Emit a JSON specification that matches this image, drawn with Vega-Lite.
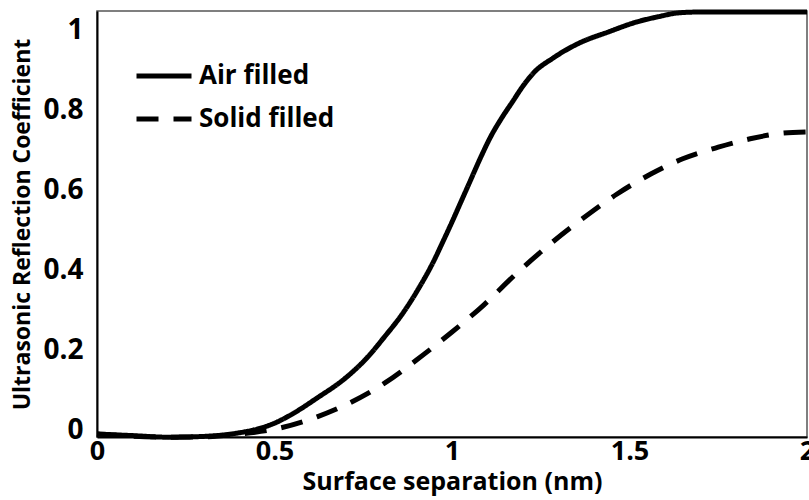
{
  "$schema": "https://vega.github.io/schema/vega-lite/v6.json",
  "width": 710,
  "height": 426,
  "autosize": {"type": "none"},
  "padding": {"left": 97, "top": 11, "right": 2, "bottom": 63},
  "background": "white",
  "config": {
    "view": {"stroke": "#555555", "strokeWidth": 1.5},
    "font": "Open Sans",
    "axis": {
      "grid": false,
      "ticks": false,
      "domainColor": "black",
      "domainWidth": 2,
      "labelColor": "black",
      "labelFont": "Open Sans",
      "labelFontWeight": "bold",
      "titleColor": "black",
      "titleFont": "Open Sans",
      "titleFontWeight": "bold"
    }
  },
  "data": {
    "values": [
      {"x": 0.0, "y": -0.01, "series": "Air filled"},
      {"x": 0.1, "y": -0.014, "series": "Air filled"},
      {"x": 0.2, "y": -0.018, "series": "Air filled"},
      {"x": 0.3, "y": -0.016, "series": "Air filled"},
      {"x": 0.4, "y": -0.007, "series": "Air filled"},
      {"x": 0.45, "y": 0.002, "series": "Air filled"},
      {"x": 0.5, "y": 0.017, "series": "Air filled"},
      {"x": 0.55, "y": 0.04, "series": "Air filled"},
      {"x": 0.62, "y": 0.08, "series": "Air filled"},
      {"x": 0.7, "y": 0.13, "series": "Air filled"},
      {"x": 0.76, "y": 0.18, "series": "Air filled"},
      {"x": 0.81, "y": 0.233, "series": "Air filled"},
      {"x": 0.86, "y": 0.29, "series": "Air filled"},
      {"x": 0.9, "y": 0.345, "series": "Air filled"},
      {"x": 0.95, "y": 0.425, "series": "Air filled"},
      {"x": 0.975, "y": 0.472, "series": "Air filled"},
      {"x": 1.0, "y": 0.52, "series": "Air filled"},
      {"x": 1.025, "y": 0.57, "series": "Air filled"},
      {"x": 1.05, "y": 0.62, "series": "Air filled"},
      {"x": 1.08, "y": 0.68, "series": "Air filled"},
      {"x": 1.11, "y": 0.735, "series": "Air filled"},
      {"x": 1.14, "y": 0.78, "series": "Air filled"},
      {"x": 1.17, "y": 0.82, "series": "Air filled"},
      {"x": 1.2, "y": 0.86, "series": "Air filled"},
      {"x": 1.23, "y": 0.893, "series": "Air filled"},
      {"x": 1.285, "y": 0.93, "series": "Air filled"},
      {"x": 1.36, "y": 0.968, "series": "Air filled"},
      {"x": 1.44, "y": 0.995, "series": "Air filled"},
      {"x": 1.52, "y": 1.02, "series": "Air filled"},
      {"x": 1.58, "y": 1.033, "series": "Air filled"},
      {"x": 1.64, "y": 1.043, "series": "Air filled"},
      {"x": 1.7, "y": 1.045, "series": "Air filled"},
      {"x": 2.0, "y": 1.045, "series": "Air filled"},
      {"x": 0.0, "y": -0.01, "series": "Solid filled"},
      {"x": 0.2, "y": -0.018, "series": "Solid filled"},
      {"x": 0.3, "y": -0.017, "series": "Solid filled"},
      {"x": 0.4, "y": -0.01, "series": "Solid filled"},
      {"x": 0.5, "y": 0.002, "series": "Solid filled"},
      {"x": 0.62, "y": 0.033, "series": "Solid filled"},
      {"x": 0.71, "y": 0.067, "series": "Solid filled"},
      {"x": 0.81, "y": 0.117, "series": "Solid filled"},
      {"x": 0.9, "y": 0.175, "series": "Solid filled"},
      {"x": 1.0, "y": 0.245, "series": "Solid filled"},
      {"x": 1.09, "y": 0.313, "series": "Solid filled"},
      {"x": 1.18, "y": 0.39, "series": "Solid filled"},
      {"x": 1.27, "y": 0.46, "series": "Solid filled"},
      {"x": 1.37, "y": 0.53, "series": "Solid filled"},
      {"x": 1.465, "y": 0.59, "series": "Solid filled"},
      {"x": 1.56, "y": 0.64, "series": "Solid filled"},
      {"x": 1.65, "y": 0.678, "series": "Solid filled"},
      {"x": 1.75, "y": 0.707, "series": "Solid filled"},
      {"x": 1.84, "y": 0.728, "series": "Solid filled"},
      {"x": 1.93, "y": 0.742, "series": "Solid filled"},
      {"x": 2.0, "y": 0.745, "series": "Solid filled"}
    ]
  },
  "mark": {"type": "line", "interpolate": "monotone", "strokeWidth": 5, "color": "black"},
  "encoding": {
    "x": {
      "field": "x",
      "type": "quantitative",
      "scale": {"domain": [0, 2], "nice": false, "zero": false},
      "axis": {
        "values": [0, 0.5, 1, 1.5, 2],
        "format": ".1~f",
        "labelFontSize": 27,
        "labelPadding": 1,
        "labelFlush": false,
        "labelOverlap": false,
        "title": "Surface separation (nm)",
        "titleFontSize": 25,
        "titlePadding": 5
      }
    },
    "y": {
      "field": "y",
      "type": "quantitative",
      "scale": {"domain": [-0.0175, 1.0475], "nice": false, "zero": false},
      "axis": {
        "values": [0, 0.2, 0.4, 0.6, 0.8, 1],
        "format": ".1~f",
        "labelFontSize": 28,
        "labelPadding": 14,
        "labelFlush": false,
        "labelOverlap": false,
        "title": "Ultrasonic Reflection Coefficient",
        "titleFontSize": 23,
        "titlePadding": 8
      }
    },
    "strokeDash": {
      "field": "series",
      "type": "nominal",
      "scale": {"domain": ["Air filled", "Solid filled"], "range": [[1, 0], [22, 15]]},
      "legend": {
        "title": null,
        "orient": "none",
        "legendX": 37,
        "legendY": 35,
        "padding": 0,
        "symbolType": "stroke",
        "symbolSize": 3025,
        "symbolStrokeWidth": 5,
        "symbolStrokeColor": "black",
        "labelFontSize": 26,
        "labelFont": "Open Sans",
        "labelFontWeight": "bold",
        "labelColor": "black",
        "labelOffset": 5,
        "rowPadding": -13
      }
    }
  }
}
